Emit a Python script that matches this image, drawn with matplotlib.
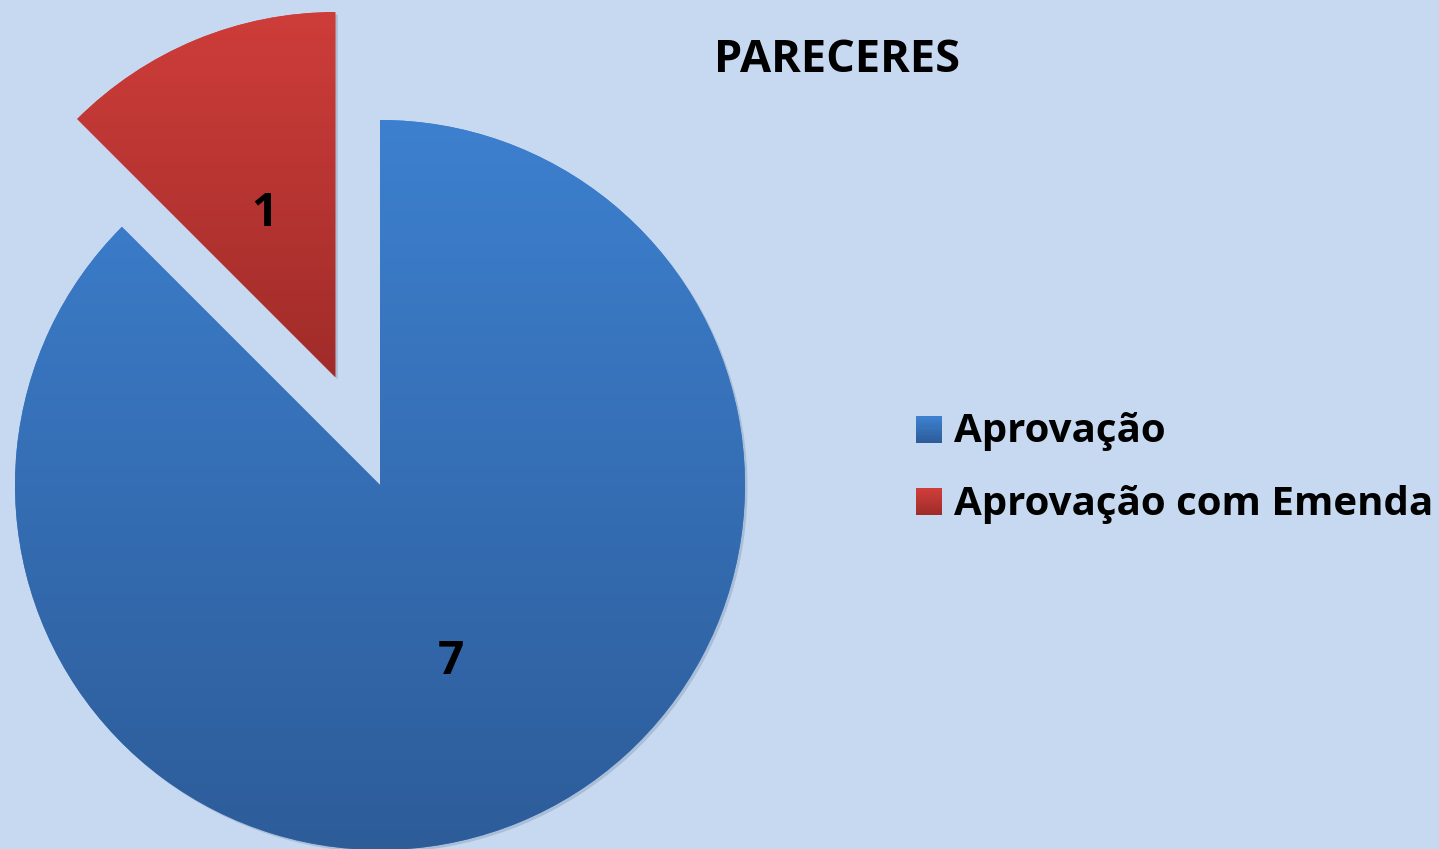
import numpy as np
import matplotlib
matplotlib.use("Agg")
import matplotlib.pyplot as plt
from matplotlib.colors import LinearSegmentedColormap
from matplotlib.patches import Rectangle, Wedge
from matplotlib.legend_handler import HandlerBase
import matplotlib.transforms as mtrans

# ---- data ----
title = "PARECERES"
categories = ["Aprovação", "Aprovação com Emenda"]
values = [7, 1]
explode = [0.0, 0.32]
top_colors = ["#3D80CF", "#CE3D3A"]
bottom_colors = ["#2D5C99", "#A02C29"]
bg = "#C6D9F1"

W, H = 1439, 849
fig = plt.figure(figsize=(W / 100, H / 100), dpi=100)
fig.patch.set_facecolor(bg)
ax = fig.add_axes([0, 0, 1, 1])
ax.set_facecolor(bg)

cx, cy_top, R = 380, 485, 365  # pixel placement of pie
cy = H - cy_top

wedges, texts = ax.pie(values, explode=explode, startangle=90, counterclock=False,
                       radius=1, labels=None, wedgeprops=dict(linewidth=0))
ax.set_aspect('auto')
ax.set_xlim(-cx / R, (W - cx) / R)
ax.set_ylim(-cy / R, (H - cy) / R)
ax.axis('off')

# shadows + gradient fills
for w, tc, bc in zip(wedges, top_colors, bottom_colors):
    sh = Wedge(w.center, w.r, w.theta1, w.theta2, facecolor="#5a6f8a", alpha=0.25,
               linewidth=0, zorder=0.5)
    sh.set_transform(ax.transData + mtrans.Affine2D().translate(2.5, -2.5))
    ax.add_patch(sh)
    w.set_zorder(1)
    w.set_facecolor(tc)
    path = w.get_path()
    verts = w.get_transform().transform(path.vertices)
    verts = ax.transData.inverted().transform(verts)
    x0, x1 = verts[:, 0].min(), verts[:, 0].max()
    y0, y1 = verts[:, 1].min(), verts[:, 1].max()
    cmap = LinearSegmentedColormap.from_list("g", [bc, tc])
    grad = np.linspace(0, 1, 256).reshape(-1, 1)
    im = ax.imshow(grad, cmap=cmap, extent=[x0, x1, y0, y1], origin='lower',
                   aspect='auto', zorder=2, interpolation='bilinear')
    im.set_clip_path(w)

ax.set_xlim(-cx / R, (W - cx) / R)
ax.set_ylim(-cy / R, (H - cy) / R)

# value labels
font = "Open Sans"
for w, v in zip(wedges, values):
    ang = np.deg2rad((w.theta1 + w.theta2) / 2)
    cxw, cyw = w.center
    r = 0.505
    ax.annotate(str(v), (cxw + r * np.cos(ang), cyw + r * np.sin(ang)),
                xytext=(0, -4.5), textcoords='offset points', ha='center', va='center',
                fontsize=33, fontweight='bold', family=font, color='black', zorder=5)

# title
fig.text(837 / W, 1 - 61 / H, title, ha='center', va='center', fontsize=32.5,
         fontweight='bold', family=font, color='black')

# legend with gradient squares
class GradHandler(HandlerBase):
    def __init__(self, tc, bc):
        super().__init__()
        self.tc, self.bc = tc, bc
    def create_artists(self, legend, orig, xd, yd, width, height, fontsize, trans):
        n = 12
        arts = []
        c1 = np.array(matplotlib.colors.to_rgb(self.bc))
        c2 = np.array(matplotlib.colors.to_rgb(self.tc))
        for i in range(n):
            f = i / (n - 1)
            col = c1 + (c2 - c1) * f
            arts.append(Rectangle((xd, yd + height * i / n), width, height / n + 0.3,
                                  facecolor=col, edgecolor='none', transform=trans))
        return arts

handles = [Rectangle((0, 0), 1, 1) for _ in categories]
hmap = {h: GradHandler(t, b) for h, t, b in zip(handles, top_colors, bottom_colors)}
leg = fig.legend(handles, categories, handler_map=hmap, loc='center left',
                 bbox_to_anchor=(916 / W, 1 - 468 / H), frameon=False,
                 prop=dict(family=font, weight='bold', size=29),
                 handlelength=0.65, handleheight=0.65, handletextpad=0.3,
                 labelspacing=0.82, borderpad=0, borderaxespad=0)

fig.savefig("out.png", dpi=100, facecolor=bg)
